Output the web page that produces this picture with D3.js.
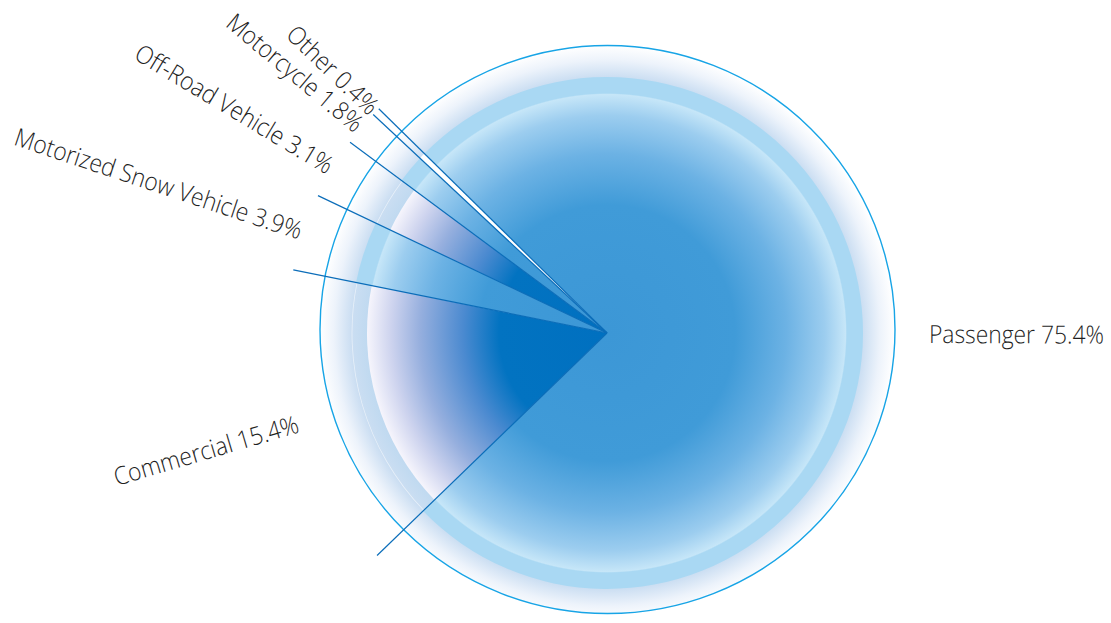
<!DOCTYPE html>
<html>
<head>
<meta charset="utf-8">
<script src="https://cdn.jsdelivr.net/npm/d3@7/dist/d3.min.js"></script>
<style>
  html, body { margin: 0; padding: 0; background: #ffffff; }
  svg { display: block; }
  .lbl { font-family: "Open Sans", "Noto Sans", sans-serif; font-weight: 300; fill: #1f1f1f; }
</style>
</head>
<body>
<svg id="chart" width="1111" height="623"></svg>
<script>
// ---- data ----
const categories = ["Passenger", "Commercial", "Motorized Snow Vehicle", "Off-Road Vehicle", "Motorcycle", "Other"];
const shares = [75.4, 15.4, 3.9, 3.1, 1.8, 0.4];
const labels = ["Passenger 75.4%", "Commercial 15.4%", "Motorized Snow Vehicle 3.9%", "Off-Road Vehicle 3.1%", "Motorcycle 1.8%", "Other 0.4%"];
// fill style per slice (style, not data)
const fillKind = ["light", "dark", "light", "dark", "light", "white"];

// ---- layout ----
const W = 1111, H = 623;
const cx = 607, cy = 333;
const rLight = 256, rDark = 240, rRing = 287.5, rLine = 320, rLabel = 322;
const startDeg = -45.5;

const svg = d3.select("#chart");
const defs = svg.append("defs");

function radial(id, r, stops) {
  const g = defs.append("radialGradient").attr("id", id)
    .attr("gradientUnits", "userSpaceOnUse")
    .attr("cx", 0).attr("cy", 0).attr("r", r).attr("fx", 0).attr("fy", 0);
  stops.forEach(s => g.append("stop").attr("offset", s[0]).attr("stop-color", s[1]));
}
radial("gRing", rRing, [[0, "#bcd6ef"], [0.83, "#bfd9f0"], [0.89, "#cbdef2"], [0.95, "#edf3fb"], [1, "#ffffff"]]);
radial("gLight", rLight, [[0, "#3c97d6"], [0.5, "#409bd8"], [0.7, "#6cb2e4"], [0.85, "#9ccdef"], [0.932, "#c6e6f8"], [0.937, "#a9d8f3"], [1, "#a9d8f3"]]);
radial("gDark", rDark, [[0, "#0070c0"], [0.45, "#0273c1"], [0.6, "#4b8ad0"], [0.78, "#96afde"], [0.9, "#cdd3ee"], [1, "#f6f5fc"]]);

const g = svg.append("g").attr("transform", `translate(${cx},${cy})`);

// background ring
g.append("ellipse")
  .attr("cx", 0.5).attr("cy", -3.5).attr("rx", rRing).attr("ry", 284)
  .attr("fill", "url(#gRing)");

const pie = d3.pie().sort(null).value(d => d)
  .startAngle(startDeg * Math.PI / 180)
  .endAngle(startDeg * Math.PI / 180 + 2 * Math.PI);
const arcs = pie(shares);

g.selectAll("path.slice").data(arcs).join("path")
  .attr("class", "slice")
  .attr("d", (d, i) => d3.arc().innerRadius(0).outerRadius(fillKind[i] === "dark" ? rDark : rLight)(d))
  .attr("fill", (d, i) => fillKind[i] === "light" ? "url(#gLight)" : fillKind[i] === "dark" ? "url(#gDark)" : "#ffffff");

// faint white edge arc over dark slices
g.selectAll("path.edge").data(arcs.filter((d, i) => fillKind[i] === "dark")).join("path")
  .attr("class", "edge")
  .attr("d", d3.arc().innerRadius(254.6).outerRadius(255.4))
  .attr("fill", "#ffffff").attr("opacity", 0.55);

// outer stroke
g.append("ellipse")
  .attr("cx", 0.5).attr("cy", -3.5).attr("rx", rRing).attr("ry", 284)
  .attr("fill", "none").attr("stroke", "#17a4e6").attr("stroke-width", 1.4);

// boundary / leader lines
g.selectAll("line.lead").data(arcs).join("line")
  .attr("class", "lead")
  .attr("x1", 0).attr("y1", 0)
  .attr("x2", d => rLine * Math.sin(d.startAngle))
  .attr("y2", d => -rLine * Math.cos(d.startAngle))
  .attr("stroke", "#0b6db9").attr("stroke-width", 1.2);

// labels
const texts = g.selectAll("text.lbl").data(arcs).join("text")
  .attr("class", "lbl")
  .attr("font-size", 25)
  .attr("dy", "0.35em")
  .text((d, i) => labels[i]);

// compress to match the condensed face of the original
const passNode = texts.nodes()[0];
const measured = passNode.getComputedTextLength();
const sx = measured > 0 ? 175 / measured : 1;

texts.each(function(d) {
  let a = (d.startAngle + d.endAngle) / 2;
  let deg = a * 180 / Math.PI;
  while (deg < 0) deg += 360;
  while (deg >= 360) deg -= 360;
  const x = rLabel * Math.sin(a), y = -rLabel * Math.cos(a);
  const left = deg > 180;
  const rot = left ? deg - 270 : deg - 90;
  d3.select(this)
    .attr("text-anchor", left ? "end" : "start")
    .attr("transform", `translate(${x},${y}) rotate(${rot}) scale(${sx},1)`);
});
</script>
</body>
</html>
